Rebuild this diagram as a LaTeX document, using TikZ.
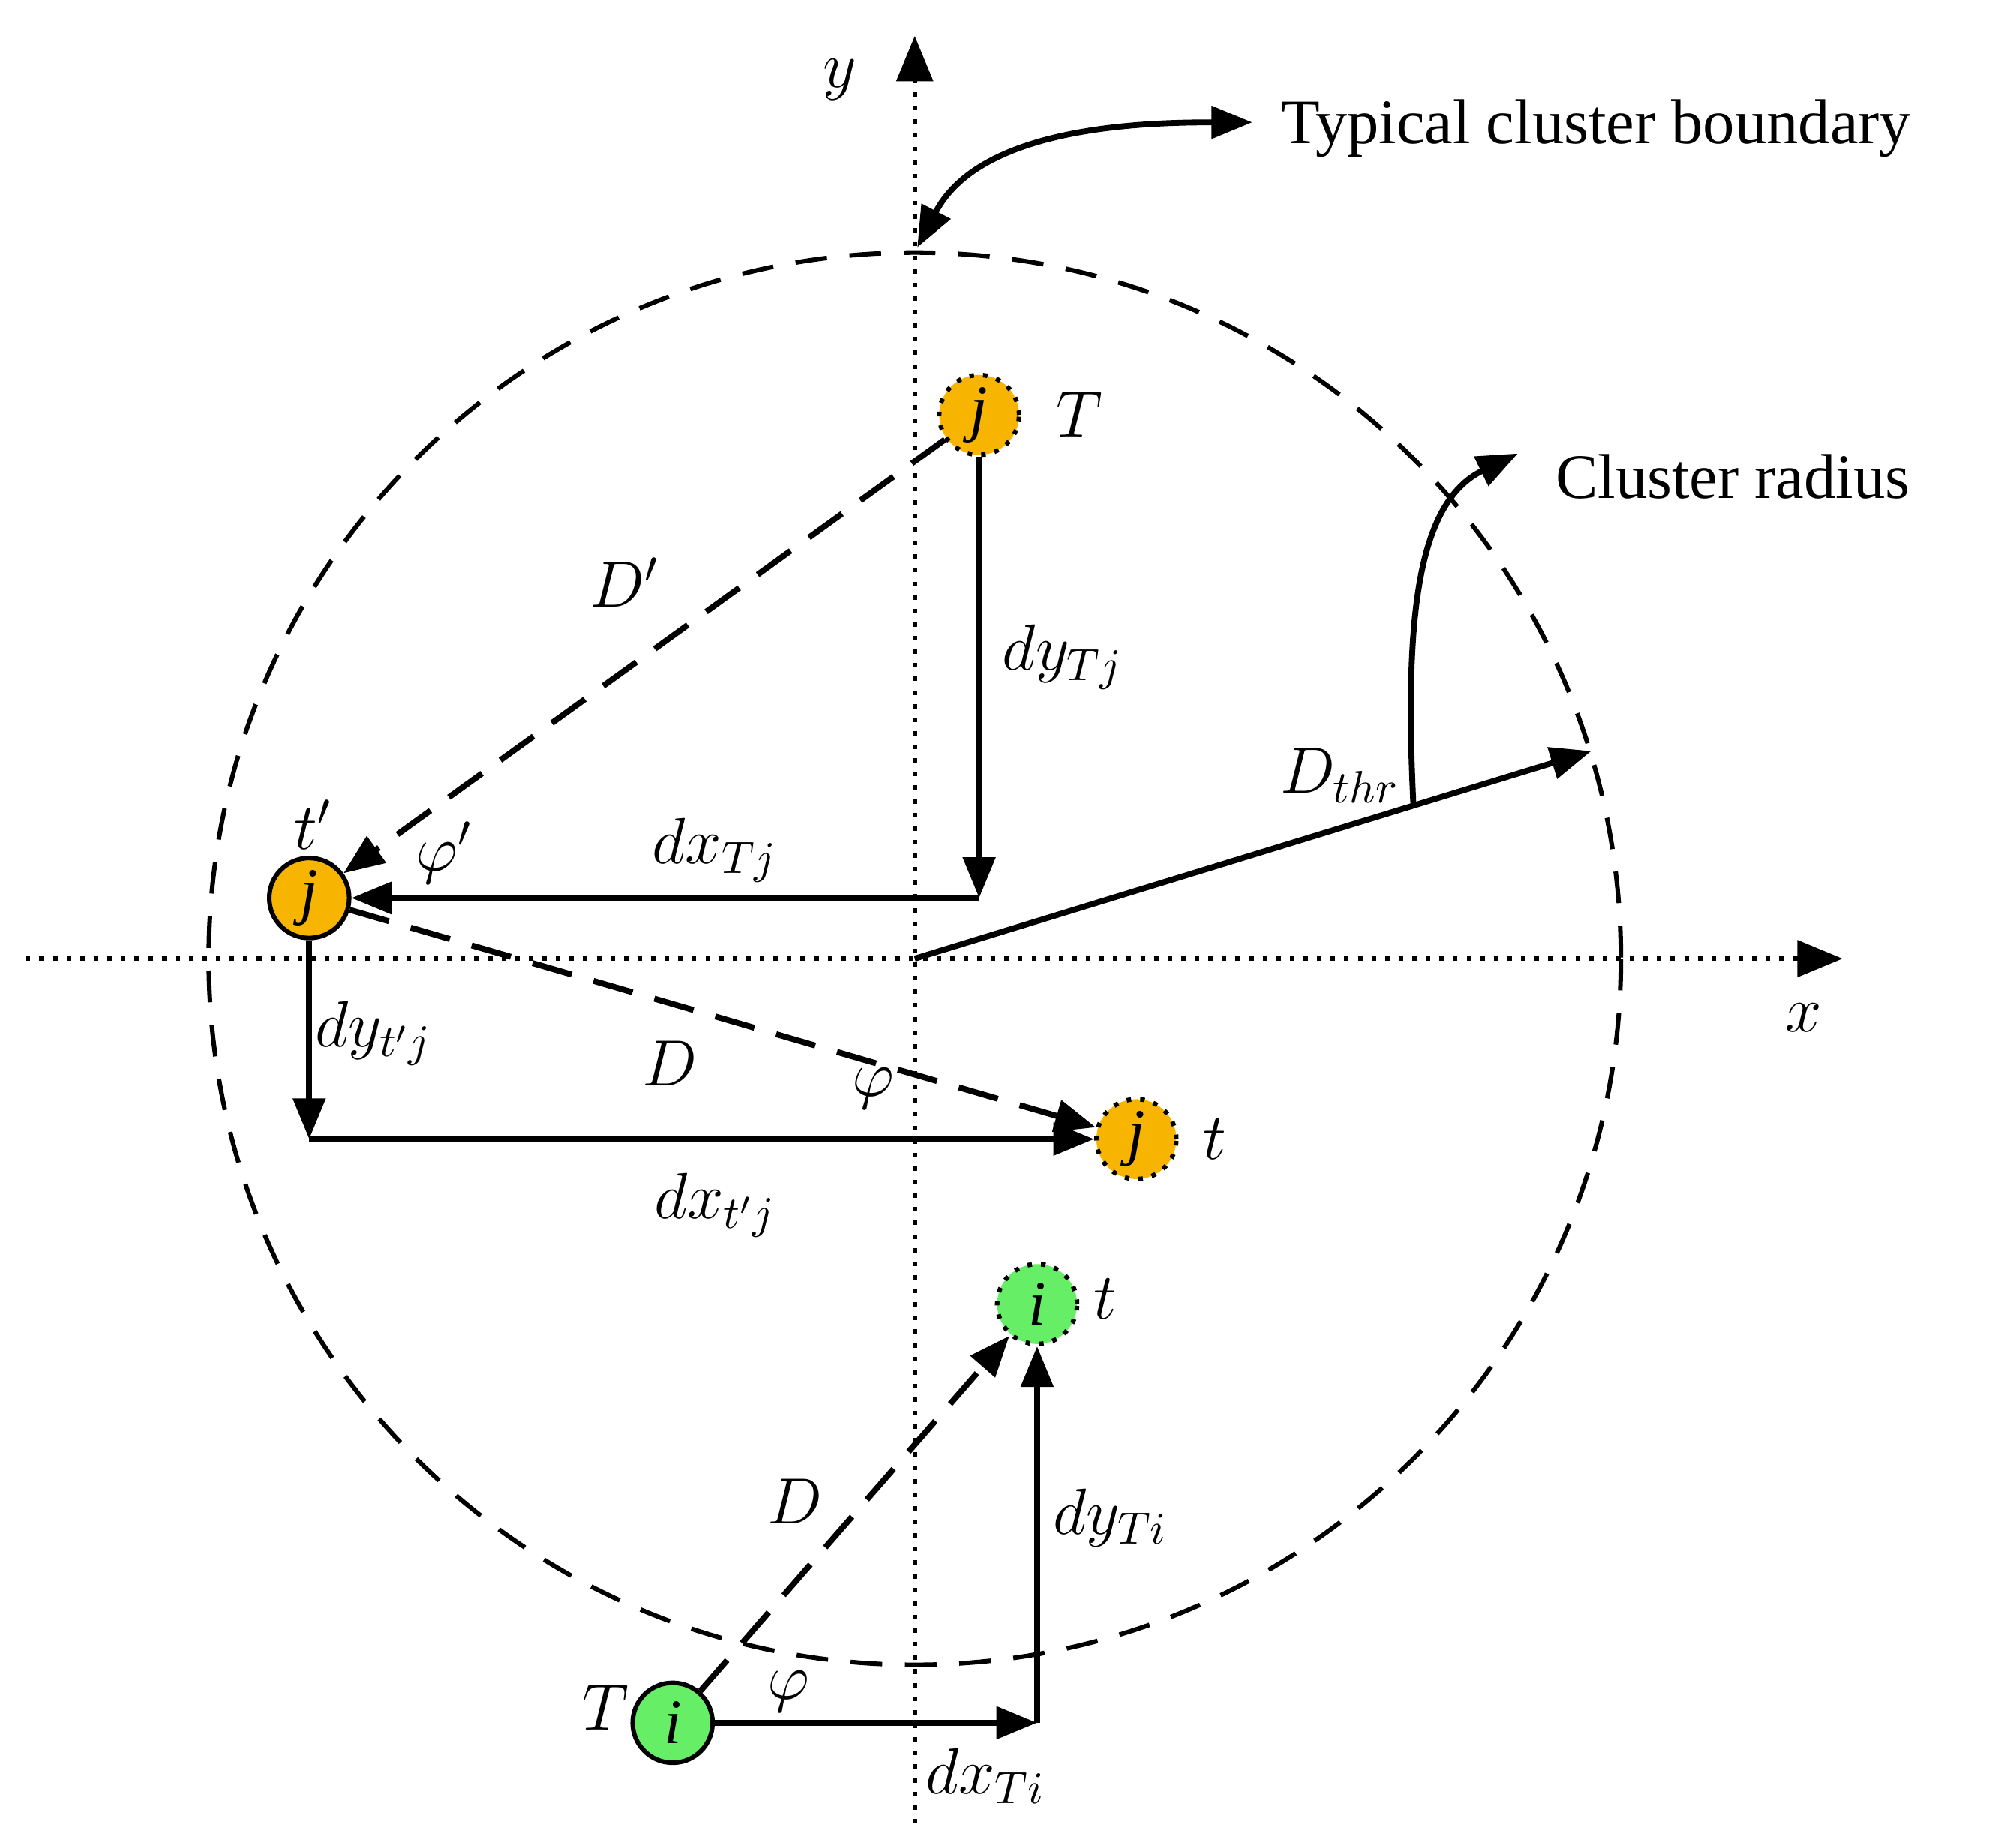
\documentclass[tikz,border=0pt]{standalone}
\usepackage{fontspec}
\setmainfont{Liberation Serif}
\usetikzlibrary{arrows.meta}
\definecolor{org}{HTML}{F7B400}
\definecolor{grn}{HTML}{66EE66}
\begin{document}
\begin{tikzpicture}[x=0.01cm,y=-0.01cm,
  ar/.style={line width=1.3pt,-{Triangle[length=9pt,width=7pt]}},
  dsh/.style={ar,dash pattern=on 9pt off 5pt},
  nd/.style={circle,draw,line width=1pt,minimum size=0.62cm,inner sep=0pt,font=\fontsize{14}{16}\selectfont\itshape},
  lb/.style={font=\fontsize{14}{16}\selectfont\itshape},
  tx/.style={font=\fontsize{14}{16}\selectfont,anchor=west}]
\useasboundingbox (0,0) rectangle (1560,1434);
\coordinate (O) at (710,744);
\coordinate (xl) at (20,744); \coordinate (xr) at (1430,744);
\coordinate (yb) at (710,1415); \coordinate (yt) at (710,28);
\draw[dotted,line width=1pt,-{Triangle[length=10pt,width=8pt]}] (xl)--(xr);
\draw[dotted,line width=1pt,-{Triangle[length=10pt,width=8pt]}] (yb)--(yt);
\draw[dashed,line width=1pt,dash pattern=on 7pt off 5pt] (O) circle[radius=548];
\node[nd,fill=org,dotted] (jT) at (760,322) {j};
\node[nd,fill=org] (tp) at (240,697) {j};
\node[nd,fill=org,dotted] (jt) at (882,884) {j};
\node[nd,fill=grn,dotted] (it) at (805,1012) {i};
\node[nd,fill=grn] (iT) at (522,1337) {i};
\coordinate (c1) at (760,697);
\coordinate (c2) at (240,884);
\coordinate (c3) at (805,1337);
\coordinate (R) at (1235,583);
\draw[ar] (jT)--(c1);
\draw[ar] (c1)--(tp);
\draw[dsh] (jT)--(tp);
\draw[dsh] (tp)--(jt);
\draw[ar] (tp)--(c2);
\draw[ar] (c2)--(jt);
\draw[ar] (iT)--(c3);
\draw[ar] (c3)--(it);
\draw[dsh] (iT)--(it);
\draw[line width=1.3pt,-{Triangle[length=9pt,width=7pt]}] (O)--(R);
\coordinate (r0) at (1097,625); \coordinate (r1) at (1178,352);
\draw[ar] (r0) .. controls (1090,480) and (1100,390) .. (r1);
\coordinate (b0) at (712,192); \coordinate (b1) at (972,95);
\draw[line width=1.3pt,{Triangle[length=9pt,width=7pt]}-{Triangle[length=9pt,width=7pt]}] (b0) .. controls (760,100) and (880,95) .. (b1);
\node[tx] (l1) at (982,100) {Typical cluster boundary};
\node[tx] (l2) at (1195,370) {Cluster radius};
\node[lb] (ly) at (652,62) {$y$};
\node[lb] (lx) at (1400,790) {$x$};
\node[lb] (a1) at (838,322) {$T$};
\node[lb] (a2) at (243,640) {$t'$};
\node[lb] (a3) at (345,662) {$\varphi'$};
\node[lb] (a4) at (555,660) {$dx_{Tj}$};
\node[lb] (a5) at (825,510) {$dy_{Tj}$};
\node[lb] (a6) at (485,452) {$D'$};
\node[lb] (a7) at (1040,602) {$D_{thr}$};
\node[lb] (a8) at (290,802) {$dy_{t'j}$};
\node[lb] (a9) at (520,825) {$D$};
\node[lb] (a10) at (678,845) {$\varphi$};
\node[lb] (a11) at (943,884) {$t$};
\node[lb] (a12) at (555,935) {$dx_{t'j}$};
\node[lb] (a13) at (858,1008) {$t$};
\node[lb] (a14) at (617,1165) {$D$};
\node[lb] (a15) at (862,1178) {$dy_{Ti}$};
\node[lb] (a16) at (470,1325) {$T$};
\node[lb] (a17) at (612,1313) {$\varphi$};
\node[lb] (a18) at (765,1378) {$dx_{Ti}$};
\end{tikzpicture}
\end{document}
